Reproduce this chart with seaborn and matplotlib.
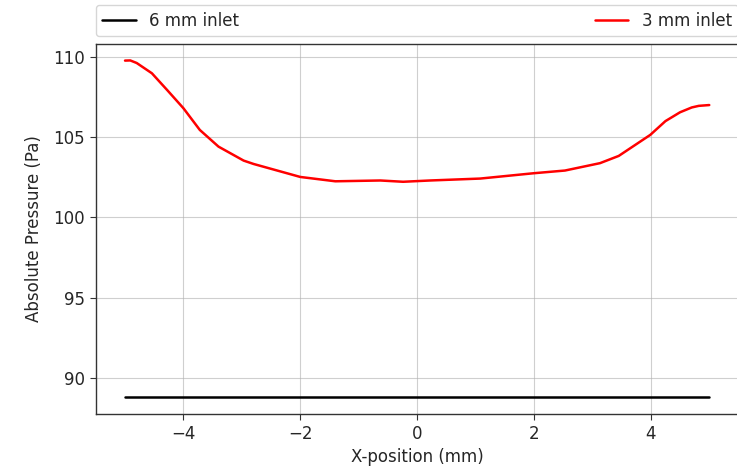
import matplotlib
matplotlib.use("Agg")
import matplotlib.pyplot as plt
import seaborn as sns
import pandas as pd

x_6mm = [-5.0, 5.0]
p_6mm = [88.82, 88.82]

x_3mm = [-5.0, -4.91, -4.80, -4.54, -4.27, -4.0, -3.72, -3.40, -2.97, -2.80,
         -2.0, -1.40, -0.63, -0.24, 0.22, 1.08, 1.99, 2.53, 3.13, 3.45,
         3.99, 4.25, 4.50, 4.70, 4.82, 5.0]
p_3mm = [109.77, 109.78, 109.62, 108.98, 107.9, 106.8, 105.45, 104.41, 103.54, 103.33,
         102.52, 102.25, 102.3, 102.22, 102.3, 102.42, 102.75, 102.92, 103.38, 103.83,
         105.14, 106.0, 106.55, 106.85, 106.95, 107.0]

labels = ["6 mm inlet", "3 mm inlet"]

sns.set_style("ticks")
fig = plt.figure(figsize=(7.37, 4.69), dpi=100)
ax = fig.add_axes([0.13, 0.118, 0.872, 0.789])

df6 = pd.DataFrame({"x": x_6mm, "p": p_6mm})
df3 = pd.DataFrame({"x": x_3mm, "p": p_3mm})
sns.lineplot(data=df6, x="x", y="p", ax=ax, color="black", lw=1.8, label=labels[0])
sns.lineplot(data=df3, x="x", y="p", ax=ax, color="red", lw=1.8, label=labels[1])

ax.grid(True, color="#b0b0b0", lw=0.8, alpha=0.6)
ax.set_xlabel("X-position (mm)", fontsize=12, labelpad=4)
ax.set_ylabel("Absolute Pressure (Pa)", fontsize=12, labelpad=7)
ax.tick_params(labelsize=12, direction="out", length=4.5, color="#333333")
ax.set_xticks([-4, -2, 0, 2, 4])
ax.set_yticks([90, 95, 100, 105, 110])
for s in ax.spines.values():
    s.set_color("#333333")
    s.set_linewidth(1.0)
ax.spines["right"].set_visible(False)

ax.legend(bbox_to_anchor=(0, 1.02, 1, 0.102), loc="lower left", ncol=2,
          mode="expand", borderaxespad=0.0, fontsize=12, frameon=True)

fig.savefig("out.png", dpi=100)
